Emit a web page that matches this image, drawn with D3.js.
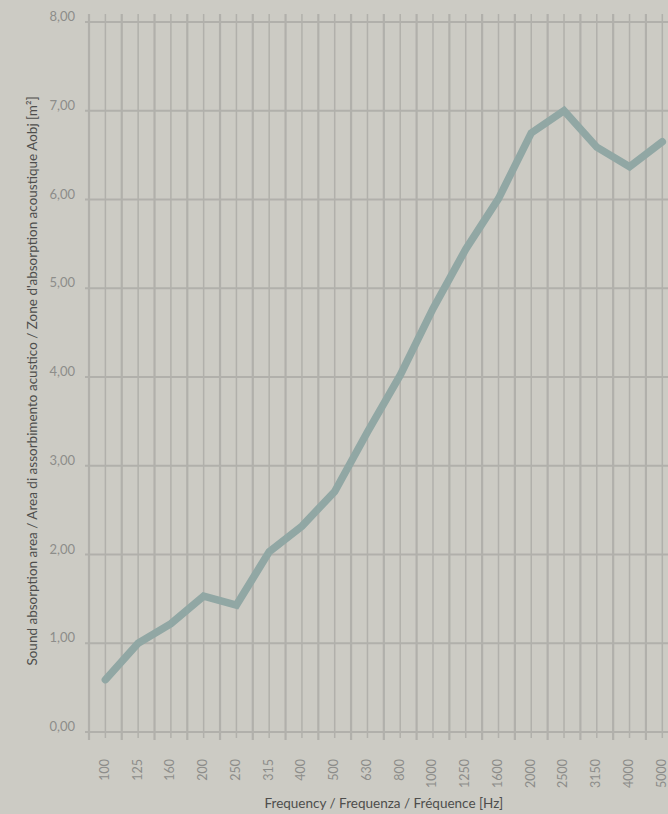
<!DOCTYPE html>
<html>
<head>
<meta charset="utf-8">
<script src="https://cdn.jsdelivr.net/npm/d3@7"></script>
<style>
  html, body { margin: 0; padding: 0; background: #cccbc4; overflow: hidden; }
  svg { display: block; font-family: Lato, "Open Sans", sans-serif; }
</style>
</head>
<body>
<div id="chart"></div>
<script>
// Sound absorption area vs frequency

const frequencies = ["100", "125", "160", "200", "250", "315", "400", "500", "630",
  "800", "1000", "1250", "1600", "2000", "2500", "3150", "4000", "5000"]
const absorption = [0.59, 1.00, 1.22, 1.53, 1.43, 2.03, 2.32, 2.71, 3.38,
  4.02, 4.77, 5.44, 6.01, 6.75, 7.00, 6.59, 6.37, 6.65]
const yTicks = [0, 1, 2, 3, 4, 5, 6, 7, 8]

const WIDTH = 668
const HEIGHT = 814
const MARGIN = { TOP: 22, LEFT: 89, BOTTOM: 82 }
const BAND = 32.76

const GRID = "#b1b0ab"
const TICK_COLOR = "#8d8d8a"

const svg = d3.select("#chart")
  .append("svg")
  .attr("width", WIDTH)
  .attr("height", HEIGHT)

const x = d3.scaleBand()
  .domain(frequencies)
  .range([MARGIN.LEFT, MARGIN.LEFT + BAND * frequencies.length])
  .padding(0)

const y = d3.scaleLinear()
  .domain([0, 8])
  .range([HEIGHT - MARGIN.BOTTOM, MARGIN.TOP])

// italian style decimals
const comma = d => d3.format(".2f")(d).replace(".", ",")

// vertical grid: band edges (thicker) and band centres (thinner)
const edges = frequencies.map(f => x(f)).concat([x.range()[1]])
svg.append("g")
  .selectAll("line")
  .data(edges)
  .join("line")
    .attr("x1", d => d).attr("x2", d => d)
    .attr("y1", y(8) - 8).attr("y2", y(0) + 8)
    .attr("stroke", GRID)
    .attr("stroke-width", 2.2)

svg.append("g")
  .selectAll("line")
  .data(frequencies)
  .join("line")
    .attr("x1", d => x(d) + x.bandwidth() / 2)
    .attr("x2", d => x(d) + x.bandwidth() / 2)
    .attr("y1", y(8) - 8).attr("y2", y(0) + 6)
    .attr("stroke", GRID)
    .attr("stroke-width", 1.5)

// horizontal grid
svg.append("g")
  .selectAll("line")
  .data(yTicks)
  .join("line")
    .attr("x1", MARGIN.LEFT - 4)
    .attr("x2", x.range()[1])
    .attr("y1", d => y(d)).attr("y2", d => y(d))
    .attr("stroke", GRID)
    .attr("stroke-width", 2.2)

// y labels
svg.append("g")
  .selectAll("text")
  .data(yTicks)
  .join("text")
    .attr("x", 75)
    .attr("y", d => y(d) - 1)
    .attr("text-anchor", "end")
    .attr("font-size", 13)
    .attr("fill", TICK_COLOR)
    .text(d => comma(d))

// x labels
svg.append("g")
  .selectAll("text")
  .data(frequencies)
  .join("text")
    .attr("transform", d => `translate(${x(d) + x.bandwidth() / 2 - 1},759) rotate(-90)`)
    .attr("dy", "0.35em")
    .attr("text-anchor", "end")
    .attr("font-size", 12.5)
    .attr("fill", TICK_COLOR)
    .text(d => d)

// the curve
const line = d3.line()
  .x((d, i) => x(frequencies[i]) + x.bandwidth() / 2)
  .y(d => y(d))

svg.append("path")
  .datum(absorption)
  .attr("d", line)
  .attr("fill", "none")
  .attr("stroke", "#91a7a4")
  .attr("stroke-width", 7.5)
  .attr("stroke-linecap", "round")
  .attr("stroke-linejoin", "miter")

// axis titles
svg.append("text")
  .attr("x", (MARGIN.LEFT + x.range()[1]) / 2)
  .attr("y", 808)
  .attr("text-anchor", "middle")
  .attr("font-size", 13.5)
  .attr("fill", "#4e4e4c")
  .text("Frequency / Frequenza / Fréquence [Hz]")

svg.append("text")
  .attr("transform", `translate(37,${(y(0) + y(8)) / 2 + 4}) rotate(-90)`)
  .attr("text-anchor", "middle")
  .attr("font-size", 13.5)
  .attr("fill", "#4e4e4c")
  .text("Sound absorption area / Area di assorbimento acustico / Zone d'absorption acoustique Aobj [m²]")
</script>
</body>
</html>
